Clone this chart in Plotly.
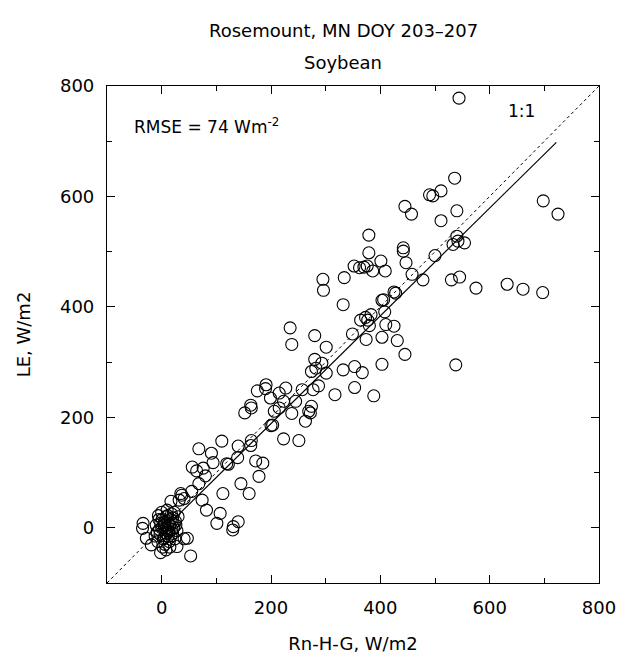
import plotly.graph_objects as go

# Measured LE vs available energy (Rn-H-G), W/m2
rn_h_g = [
    544, 536, 511, 490, 496, 445, 457, 540, 511, 379, 698, 725, 442, 540, 542, 554, 533,
    379, 442, 447, 401, 352, 362, 370, 376, 386, 409, 334, 500, 458, 478, 530, 545, 575,
    632, 661, 697, 425, 428, 403, 406, 408, 332, 295, 296, 364, 373, 377, 383, 380, 349,
    410, 425, 374, 403, 431, 445, 403, 538, 301, 332, 353, 367, 353, 317, 388,
    235, 238, 280, 280, 293, 274, 282, 301, 287, 277, 257, 227, 215, 191, 190, 175, 199,
    163, 245, 223, 274,
    152, 164, 206, 215, 238, 263, 269, 272, 200, 203, 223, 251, 110, 68, 91, 94, 140, 139,
    164, 163, 122, 119, 172, 185, 178, 56, 64, 76, 80, 55, 35, 41, 17, 74, 82, 112, 145,
    160, 107, 101, 140, 131, 130, 53, -2, -34, -35, -28, -19, 41, 47, 28, 32, 37, 68,
    0, 5, 10, 15, -5, 20, 8, 12, -8, 25, 3, 18, -10, 6, 14, 22, 0, 10, -3, 28, 16, 4, 9,
    -6, 20, 24, 2, 12, 7, -12, 30, 15, -2, 19, 11, 26, 5, -7, 17, 23, 1, 13, 8, -4, 21,
]
le = [
    778, 633, 610, 603, 601, 582, 568, 574, 556, 530, 592, 568, 507, 528, 519, 516, 513,
    498, 501, 480, 483, 474, 471, 472, 474, 465, 465, 453, 493, 459, 449, 449, 454, 434,
    441, 432, 426, 427, 425, 412, 413, 391, 404, 450, 430, 376, 381, 376, 386, 366, 351,
    368, 365, 341, 345, 339, 314, 296, 295, 327, 286, 292, 281, 254, 241, 239,
    362, 332, 348, 305, 298, 283, 289, 280, 257, 250, 250, 253, 244, 259, 252, 248, 235,
    222, 229, 229, 220,
    208, 217, 211, 217, 207, 193, 211, 208, 185, 186, 161, 158, 157, 143, 135, 118, 148, 127,
    158, 149, 115, 116, 121, 117, 93, 110, 103, 108, 94, 66, 62, 53, 48, 50, 32, 62, 80,
    62, 26, 8, 11, 2, -4, -51, -45, 8, -1, -19, -31, -20, -19, -34, 50, 59, 80,
    0, 10, -5, 5, 15, -10, 20, -15, -8, 12, -20, 25, 5, -30, -25, 0, 28, 32, -12, -5, 15, 5, -10,
    22, 18, -20, -35, 8, -2, -15, 20, -35, 8, -3, 22, 5, -18, -25, -15, 28, 15, -8, -40, -3, 8,
]

one_to_one = [-100, 800]
fit_x = [25, 722]
fit_y = [18, 698]

major_ticks = [0, 200, 400, 600, 800]
minor_ticks = [-100, 100, 300, 500, 700]

FONT = "DejaVu Sans"

fig = go.Figure()
fig.add_trace(go.Scatter(
    x=one_to_one, y=one_to_one, mode="lines",
    line=dict(color="black", width=1, dash="dot"), showlegend=False, hoverinfo="skip"))
fig.add_trace(go.Scatter(
    x=fit_x, y=fit_y, mode="lines",
    line=dict(color="black", width=1.2), showlegend=False, hoverinfo="skip"))
fig.add_trace(go.Scatter(
    x=rn_h_g, y=le, mode="markers",
    marker=dict(symbol="circle-open", size=12, color="black", line=dict(width=1.1, color="black")),
    showlegend=False))

axis_common = dict(
    range=[-100, 800], showgrid=False, zeroline=False,
    showline=True, linecolor="black", linewidth=1.2, mirror="ticks",
    ticks="inside", ticklen=8, tickwidth=1, tickcolor="black",
    tickvals=major_ticks, ticktext=[str(v) for v in major_ticks],
    tickfont=dict(family=FONT, size=18, color="black"),
    ticklabelstandoff=8, ticklabeloverflow="allow",
    minor=dict(tickvals=minor_ticks, ticks="inside", ticklen=5, tickwidth=1, tickcolor="black"),
)

# The page body has an 8px default margin, so the figure is 8px smaller
fig.update_layout(
    width=620, height=654,
    margin=dict(l=99, r=21, t=78, b=73),
    paper_bgcolor="white", plot_bgcolor="white",
    font=dict(family=FONT, size=18, color="black"),
    xaxis=dict(**axis_common, title=dict(text="Rn-H-G, W/m2", font=dict(family=FONT, size=18), standoff=20)),
    yaxis=dict(**axis_common, title=dict(text="LE, W/m2", font=dict(family=FONT, size=18), standoff=24)),
    annotations=[
        dict(text="Rosemount, MN DOY 203\u2013207", xref="paper", yref="paper", x=0.48, y=1.0,
             yshift=56, showarrow=False, font=dict(family=FONT, size=18), xanchor="center", yanchor="middle"),
        dict(text="Soybean", xref="paper", yref="paper", x=0.48, y=1.0, yshift=24,
             showarrow=False, font=dict(family=FONT, size=18), xanchor="center", yanchor="middle"),
        dict(text="RMSE = 74 Wm<sup>-2</sup>", xref="x", yref="y", x=-54, y=727,
             showarrow=False, font=dict(family=FONT, size=17), xanchor="left", yanchor="middle"),
        dict(text="1:1", xref="x", yref="y", x=659, y=754,
             showarrow=False, font=dict(family=FONT, size=17), xanchor="center", yanchor="middle"),
    ],
)

fig.write_html("out.html")
